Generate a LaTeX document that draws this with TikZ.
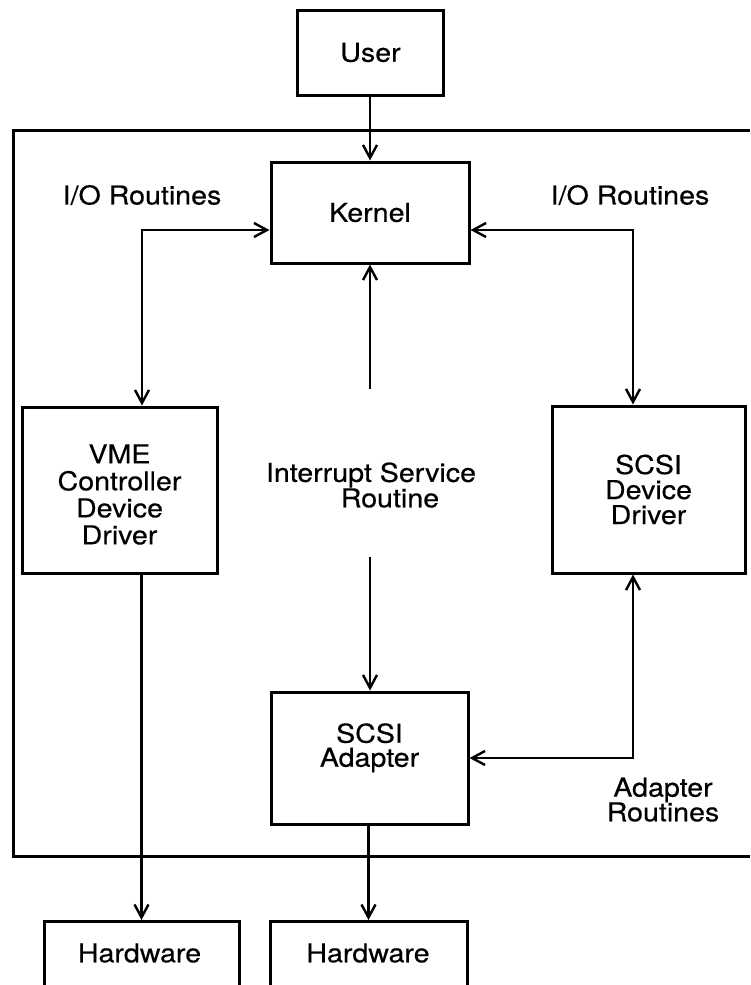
\documentclass[tikz,border=0pt]{standalone}
\usepackage{fontspec}
\setmainfont[FakeStretch=1.1,FakeBold=0.4]{TeX Gyre Heros}
\usetikzlibrary{arrows.meta}

\tikzset{
  box/.style={draw, line width=3pt, rectangle, inner sep=0pt, align=center},
  lbl/.style={inner sep=0pt, align=center},
  conn/.style={line width=2.4pt, -{Straight Barb[length=13pt,width=14pt,line width=2.4pt]}},
  conn2/.style={line width=2.4pt, {Straight Barb[length=13pt,width=14pt,line width=2.4pt]}-{Straight Barb[length=13pt,width=14pt,line width=2.4pt]}},
  frame/.style={line width=3pt}
}

\begin{document}
\begin{tikzpicture}[x=1pt, y=-1pt, font=\fontsize{26}{26}\selectfont]
\useasboundingbox (0,0) rectangle (750,985);

% boxes
\node[box, minimum width=146pt, minimum height=85pt] (user) at (370.5,52.5) {User};
\node[box, minimum width=198pt, minimum height=101pt] (kernel) at (370,212.5) {Kernel};
\node[box, minimum width=195pt, minimum height=166pt] (vme) at (119.5,490) {\\[2pt]VME\\[1pt]Controller\\[1pt]Device\\[1pt]Driver};
\node[box, minimum width=193pt, minimum height=167pt] (scsidd) at (648.5,489.5) {SCSI\\[-1pt]Device\\[-1pt]Driver};
\node[box, minimum width=197pt, minimum height=132pt] (adapter) at (369.5,758) {SCSI\\[-2pt]Adapter\\~};
\node[box, anchor=north, minimum width=195pt, minimum height=80pt] (hw1) at (141.5,920) {};
\node[box, anchor=north, minimum width=197pt, minimum height=80pt] (hw2) at (368.5,920) {};
\node[lbl] (hw1t) at (139.5,953) {Hardware};
\node[lbl] (hw2t) at (368,953) {Hardware};

% surrounding frame, open to the right
\draw[frame] (750,130) -- (13,130) -- (13,856) -- (750,856);

% labels
\node[lbl] (iol) at (142,195) {I/O Routines};
\node[lbl] (ior) at (630,195) {I/O Routines};
\node[lbl] (isr1) at (371,475) {Interrupt Service};
\node[lbl] (isr2) at (390,498) {Routine};
\node[lbl] (adr1) at (663,790) {Adapter};
\node[lbl] (adr2) at (663,812) {Routines};

% connector corner points
\coordinate (li) at (142,230);
\coordinate (ri) at (633,230);
\coordinate (it) at (370,389);
\coordinate (ib) at (370,557);
\coordinate (ar) at (633,758);

% connectors
\draw[conn] (user.south -| kernel.north) -- (kernel.north);
\draw[conn2] (vme.north -| li) -- (li) -- (kernel.west |- li);
\draw[conn2] (kernel.east |- ri) -- (ri) -- (scsidd.north -| ri);
\draw[conn] (it) -- (kernel.south -| it);
\draw[conn] (ib) -- (adapter.north -| ib);
\draw[conn2] (scsidd.south -| ar) -- (ar) -- (adapter.east |- ar);
\draw[conn] (hw1.north |- vme.south) -- (hw1.north);
\draw[conn] (hw2.north |- adapter.south) -- (hw2.north);
\end{tikzpicture}
\end{document}
